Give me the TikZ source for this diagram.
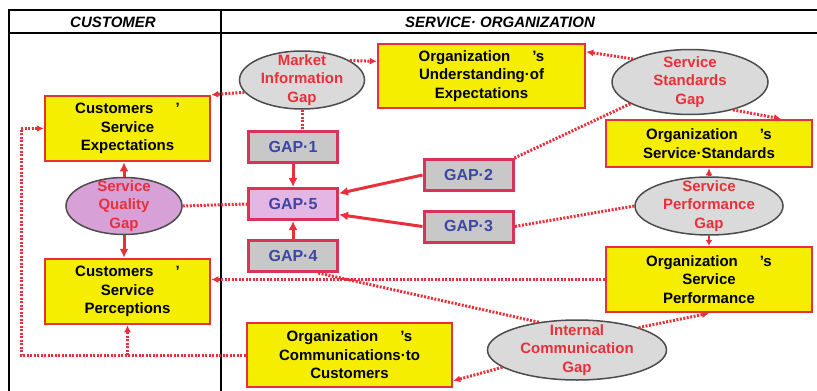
\documentclass[tikz,border=0pt]{standalone}
\usepackage{fontspec}
\setmainfont{Liberation Sans}
\usetikzlibrary{shapes.geometric,positioning,arrows.meta}

\definecolor{boxyellow}{RGB}{245,238,0}
\definecolor{edgered}{RGB}{232,48,58}
\definecolor{gapgrey}{RGB}{200,200,200}
\definecolor{ellgrey}{RGB}{218,218,218}
\definecolor{gapblue}{RGB}{60,70,165}
\definecolor{gapborder}{RGB}{220,50,90}
\definecolor{qualpink}{RGB}{215,160,215}
\definecolor{gapfive}{RGB}{228,182,228}

\newcommand{\boxfont}{\fontsize{15}{18.5}\selectfont\bfseries}
\newcommand{\gapfont}{\fontsize{16}{18}\selectfont\bfseries}
\newcommand{\headfont}{\fontsize{15}{17}\selectfont\bfseries\itshape}

\tikzset{
  frame/.style={draw=black, line width=2pt},
  headtext/.style={font=\headfont, inner sep=0pt},
  orgbox/.style={rectangle, draw=edgered, fill=boxyellow, line width=2.5pt, align=center, font=\boxfont, inner sep=0pt},
  gapnode/.style={ellipse, draw=black!70, fill=ellgrey, line width=1.5pt, inner sep=0pt},
  gaptext/.style={text=edgered, font=\boxfont, align=center, inner sep=0pt},
  gapbox/.style={rectangle, draw=gapborder, fill=gapgrey, line width=3pt, minimum width=89pt, minimum height=31pt, font=\gapfont, text=gapblue},
  solidedge/.style={draw=edgered, line width=3pt, -{Latex[length=9pt,width=9pt]}},
  dotline/.style={draw=edgered, line width=3pt, dash pattern=on 2pt off 1.5pt},
  dotedge/.style={dotline, -{Latex[length=7pt,width=7pt]}},
}

\begin{document}
\begin{tikzpicture}[x=1pt, y=-1pt]
  \useasboundingbox (0,0) rectangle (817,391);

  % frame
  \draw[frame] (9,391) -- (9,10) -- (817,10) ;
  \draw[frame] (9,33) -- (817,33) ;
  \draw[frame] (221,10) -- (221,391) ;
  \node[headtext] (cust) at (113,22) {CUSTOMER} ; %
  \node[headtext] (org)  at (500,22) {SERVICE· ORGANIZATION} ; %

  % customer
  \node[orgbox, minimum width=165pt, minimum height=65pt] (cse) at (127.5,128.5) {Customers\hspace{22pt}'\\Service\\Expectations} ; %
  \node[gapnode, fill=qualpink, minimum width=116pt, minimum height=57pt,
        label={[gaptext]center:Service\\Quality\\Gap}] (sqg) at (124,206) {} ; %
  \node[orgbox, minimum width=165pt, minimum height=65pt] (csp) at (127.5,291.5) {Customers\hspace{22pt}'\\Service\\Perceptions} ; %

  % organization
  \node[gapnode, minimum width=125pt, minimum height=58pt,
        label={[gaptext]center:Market\\Information\\Gap}] (mig) at (302,80) {} ; %
  \node[orgbox, minimum width=207pt, minimum height=64pt] (oue) at (481.5,76) {Organization\hspace{22pt}'s\\Understanding·of\\Expectations} ; %
  \node[gapnode, minimum width=156pt, minimum height=65pt,
        label={[gaptext]center:Service\\Standards\\Gap}] (ssg) at (690,82) {} ; %
  \node[orgbox, minimum width=206pt, minimum height=47pt] (oss) at (709,143.5) {Organization\hspace{22pt}'s\\Service·Standards} ; %
  \node[gapnode, minimum width=148pt, minimum height=58pt,
        label={[gaptext]center:Service\\Performance\\Gap}] (spg) at (709,206) {} ; %
  \node[orgbox, minimum width=206pt, minimum height=65pt] (osp) at (709,279.5) {Organization\hspace{22pt}'s\\Service\\Performance} ; %
  \node[gapnode, minimum width=179pt, minimum height=60pt,
        label={[gaptext]center:Internal\\Communication\\Gap}] (icg) at (577,350) {} ; %
  \node[orgbox, minimum width=205pt, minimum height=64pt] (occ) at (349.5,355) {Organization\hspace{22pt}'s\\Communications·to\\Customers} ; %

  % gaps
  \node[gapbox, fill=gapfive] (gap5) at (293,204) {GAP·5} ; %
  \node[gapbox, above=23pt of gap5] (gap1) {GAP·1} ; %
  \node[gapbox, below=18pt of gap5] (gap4) {GAP·4} ; %
  \node[gapbox] (gap2) at (468.5,175) {GAP·2} ; %
  \node[gapbox] (gap3) at (468.5,226.5) {GAP·3} ; %

  % solid edges
  \draw[solidedge] (gap1) -- (gap5) ;
  \draw[solidedge] (gap4) -- (gap5) ;
  \draw[solidedge] (gap2.west) -- (gap5.13) ;
  \draw[solidedge] (gap3.west) -- (gap5.-13) ;
  \draw[solidedge] (sqg.north) -- (sqg.north |- cse.south) ;
  \draw[solidedge] (sqg.south) -- (sqg.south |- csp.north) ;
  \draw[edgered, line width=2pt, -{Latex[length=6pt,width=7pt]}] (spg.south) -- (osp.north) ;

  % dotted edges
  \draw[dotedge] (mig.192) -- (cse.north east) ;
  \draw[dotedge] (mig.22) -- (oue.172) ;
  \draw[dotline] (mig.south) -- (mig.south |- gap1.north) ;
  \draw[dotedge] (ssg.158) -- (oue.13) ;
  \draw[dotedge] (ssg.-33) -- (oss.19) ;
  \draw[dotline] (ssg.200) -- (gap2.north east) ;
  \draw[dotline] (sqg.east) -- (gap5.west) ;
  \draw[dotedge] (spg.north) -- (oss.south) ;
  \draw[dotline] (spg.west) -- (gap3.east) ;
  \draw[dotedge] (osp.west) -- (osp.west -| csp.east) ;
  \draw[dotline] (gap4.-34) -- (icg.144) ;
  \draw[dotedge] (icg.20) -- (osp.south) ;
  \draw[dotedge] (icg.193) -- (occ.-14) ;

  % communications back to customer
  \coordinate (ret) at (21,0) ;
  \draw[dotedge] (occ.west) -| (ret |- cse.west) -- (cse.west) ;
  \draw[dotedge] (occ.west -| csp.south) -- (csp.south) ;

\end{tikzpicture}
\end{document}
